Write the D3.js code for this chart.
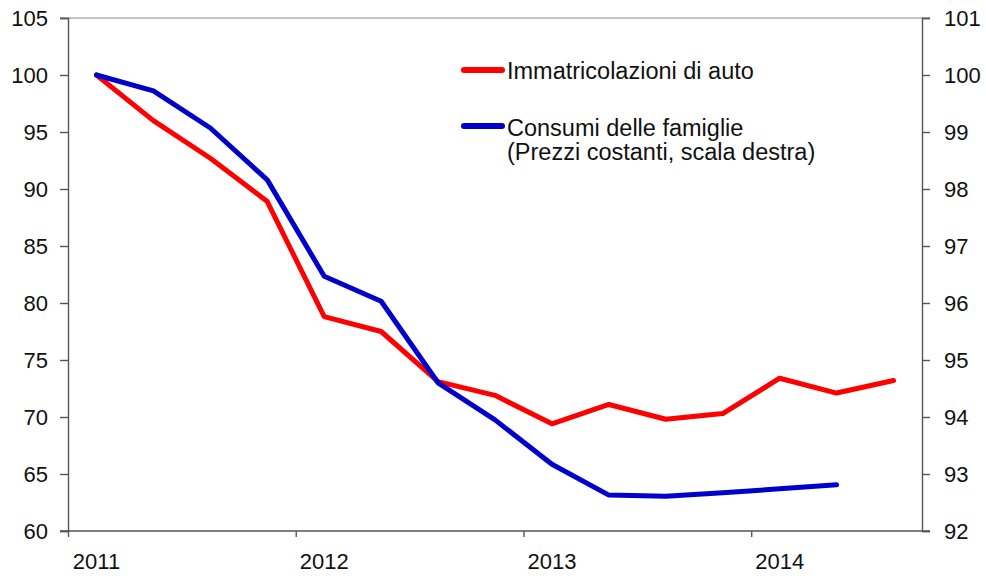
<!DOCTYPE html>
<html>
<head>
<meta charset="utf-8">
<script src="https://cdn.jsdelivr.net/npm/d3@7"></script>
<style>
  body { margin: 0; background: #fff; }
  svg { display: block; font-family: "Liberation Sans", Arial, sans-serif; }
</style>
</head>
<body>
<svg id="chart"></svg>
<script>
// quarterly data, 2011 Q1 .. 2014 Q3
const years = ["2011", "2012", "2013", "2014"];
const immatricolazioni = [100, 96.0, 92.7, 88.9, 78.8, 77.5, 73.1, 71.9, 69.4, 71.1, 69.8, 70.3, 73.4, 72.1, 73.2];
const consumi = [100, 99.72, 99.07, 98.16, 96.47, 96.03, 94.6, 93.95, 93.17, 92.63, 92.61, 92.67, 92.74, 92.81];
const leftTicks = [60, 65, 70, 75, 80, 85, 90, 95, 100, 105];
const rightTicks = [92, 93, 94, 95, 96, 97, 98, 99, 100, 101];
const legendLabels = ["Immatricolazioni di auto", "Consumi delle famiglie", "(Prezzi costanti, scala destra)"];

const width = 986;
const height = 576;
const margin = {top: 18, right: 64, bottom: 45, left: 68};
const RED = "#ff0000";
const BLUE = "#0000cc";
const AXIS = "#555";

const svg = d3.select("#chart").attr("width", width).attr("height", height);

const x = d3.scaleLinear().domain([0, 15]).range([margin.left, width - margin.right]);
const yL = d3.scaleLinear().domain([60, 105]).range([height - margin.bottom, margin.top]);
const yR = d3.scaleLinear().domain([92, 101]).range([height - margin.bottom, margin.top]);

// top border
svg.append("line")
    .attr("x1", margin.left - 8).attr("x2", width - margin.right + 8)
    .attr("y1", margin.top).attr("y2", margin.top)
    .attr("stroke", "#888").attr("stroke-width", 1.2);

const left = svg.append("g")
    .attr("transform", `translate(${margin.left},0)`)
    .call(d3.axisLeft(yL).tickValues(leftTicks).tickSize(8).tickPadding(12));

const right = svg.append("g")
    .attr("transform", `translate(${width - margin.right},0)`)
    .call(d3.axisRight(yR).tickValues(rightTicks).tickSize(8).tickPadding(14));

const bottom = svg.append("g")
    .attr("transform", `translate(0,${height - margin.bottom})`)
    .call(d3.axisBottom(x).tickValues([0, 4, 8, 12]).tickSize(6).tickFormat((d, i) => years[i]).tickPadding(16));

bottom.selectAll("text").attr("dx", 28);
// extend bottom line to both outer tick ends
bottom.select(".domain").attr("d", `M${margin.left - 8},0H${width - margin.right + 8}`);

[left, right, bottom].forEach(g => {
    g.select(".domain").attr("stroke", AXIS).attr("stroke-width", 1.4);
    g.selectAll(".tick line").attr("stroke", AXIS).attr("stroke-width", 1.4);
    g.selectAll("text").attr("font-size", 22).attr("fill", "#111").attr("font-family", null);
});

const lineL = d3.line().x((d, i) => x(i + 0.5)).y(d => yL(d));
const lineR = d3.line().x((d, i) => x(i + 0.5)).y(d => yR(d));

svg.append("path")
    .datum(immatricolazioni)
    .attr("d", lineL)
    .attr("fill", "none").attr("stroke", RED).attr("stroke-width", 5)
    .attr("stroke-linejoin", "round").attr("stroke-linecap", "round");

svg.append("path")
    .datum(consumi)
    .attr("d", lineR)
    .attr("fill", "none").attr("stroke", BLUE).attr("stroke-width", 5)
    .attr("stroke-linejoin", "round").attr("stroke-linecap", "round");

// legend
const legend = svg.append("g").attr("font-size", 23.5).attr("fill", "#111");
legend.append("line").attr("x1", 464).attr("x2", 502).attr("y1", 70).attr("y2", 70)
    .attr("stroke", RED).attr("stroke-width", 6).attr("stroke-linecap", "round");
legend.append("text").attr("x", 507).attr("y", 79).text(legendLabels[0]);
legend.append("line").attr("x1", 464).attr("x2", 502).attr("y1", 126).attr("y2", 126)
    .attr("stroke", BLUE).attr("stroke-width", 6).attr("stroke-linecap", "round");
legend.append("text").attr("x", 507).attr("y", 136).text(legendLabels[1]);
legend.append("text").attr("x", 507).attr("y", 160).text(legendLabels[2]);
</script>
</body>
</html>
